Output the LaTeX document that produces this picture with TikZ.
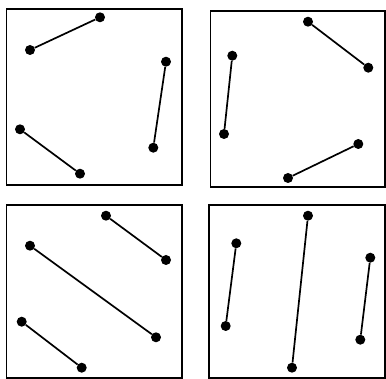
\documentclass[tikz,border=0pt]{standalone}
\begin{document}
\begin{tikzpicture}[x=1pt,y=-1pt,
  dot/.style={circle,fill=black,inner sep=0pt,minimum size=10pt},
  seg/.style={line width=1.7pt},
  frame/.style={line width=1.5pt}]
\useasboundingbox (0,0) rectangle (386,379);
% frames
\draw[frame] (6.5,9) rectangle (182,185);
\draw[frame] (210.5,11) rectangle (384.8,187);
\draw[frame] (6.5,205) rectangle (182,378);
\draw[frame] (209,205) rectangle (384.8,378);
% top-left
\node[dot] (a1) at (30,50) {};
\node[dot] (a2) at (100,17.3) {};
\node[dot] (a3) at (166,61.7) {};
\node[dot] (a4) at (153.3,147.7) {};
\node[dot] (a5) at (20,129.3) {};
\node[dot] (a6) at (80,173.7) {};
\draw[seg] (a1) -- (a2);
\draw[seg] (a3) -- (a4);
\draw[seg] (a5) -- (a6);
% top-right
\node[dot] (b1) at (232.3,55.7) {};
\node[dot] (b2) at (224,134) {};
\node[dot] (b3) at (308,21.7) {};
\node[dot] (b4) at (368.3,67.7) {};
\node[dot] (b5) at (358.3,144) {};
\node[dot] (b6) at (288,178) {};
\draw[seg] (b1) -- (b2);
\draw[seg] (b3) -- (b4);
\draw[seg] (b5) -- (b6);
% bottom-left
\node[dot] (c1) at (106,215.7) {};
\node[dot] (c2) at (166,260) {};
\node[dot] (c3) at (30,245.7) {};
\node[dot] (c4) at (156,337.3) {};
\node[dot] (c5) at (21.7,321.7) {};
\node[dot] (c6) at (81.7,367.7) {};
\draw[seg] (c1) -- (c2);
\draw[seg] (c3) -- (c4);
\draw[seg] (c5) -- (c6);
% bottom-right
\node[dot] (d1) at (236.3,243.3) {};
\node[dot] (d2) at (225.7,326) {};
\node[dot] (d3) at (308,215.7) {};
\node[dot] (d4) at (292,367.7) {};
\node[dot] (d5) at (370.3,257.7) {};
\node[dot] (d6) at (360.3,339.7) {};
\draw[seg] (d1) -- (d2);
\draw[seg] (d3) -- (d4);
\draw[seg] (d5) -- (d6);
\end{tikzpicture}
\end{document}
